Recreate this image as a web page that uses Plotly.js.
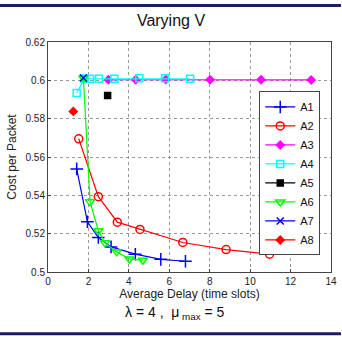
<!DOCTYPE html>
<html><head><meta charset="utf-8">
<script src="https://cdn.plot.ly/plotly-3.0.1.min.js"></script>
<style>html,body{margin:0;padding:0;background:#fff;}#wrap{position:relative;width:342px;height:339px;}#c{width:342px;height:339px;}
.bar{position:absolute;left:0;width:341px;height:2px;background:#1c1c64;z-index:10;}</style>
</head><body>
<div id="wrap"><div id="c"></div><div class="bar" style="top:4px"></div><div class="bar" style="top:333px"></div></div>
<script>
const a1x = [1.42, 1.95, 2.49, 3.12, 4.32, 5.58, 6.8];
const a1y = [0.5538, 0.5262, 0.518, 0.5131, 0.5093, 0.5066, 0.5056];
const a2x = [1.52, 2.49, 3.43, 4.55, 6.67, 8.81, 10.96];
const a2y = [0.5695, 0.5393, 0.526, 0.5222, 0.5154, 0.5117, 0.5093];
const a3x = [2.99, 4.34, 5.83, 8.02, 10.54, 13.02];
const a3y = [0.6003, 0.6003, 0.6004, 0.6003, 0.6003, 0.6002];
const a4x = [1.42, 1.8, 2.08, 2.52, 3.28, 4.52, 5.79, 7.03];
const a4y = [0.5934, 0.6009, 0.6008, 0.6008, 0.6008, 0.6011, 0.6011, 0.6008];
const a5x = [2.95];
const a5y = [0.5921];
const a6x = [1.75, 2.08, 2.49, 2.82, 3.4, 4.03, 4.69];
const a6y = [0.6012, 0.5366, 0.5215, 0.5152, 0.5105, 0.5068, 0.5061];
const a7x = [1.75];
const a7y = [0.6012];
const a8x = [1.25];
const a8y = [0.5838];
const names = ['A1','A2','A3','A4','A5','A6','A7','A8'];

function tr(name, x, y, color, symbol, size) {
  return {x: x, y: y, name: name, type: 'scatter', mode: 'lines+markers',
    line: {color: color, width: 1.2},
    marker: {color: color, symbol: symbol, size: size, line: {color: color, width: 1.5}}};
}
const data = [
  tr(names[0], a1x, a1y, '#0000ff', 'cross-thin', 9),
  tr(names[1], a2x, a2y, '#ff0000', 'circle-open', 8),
  tr(names[2], a3x, a3y, '#ff00ff', 'diamond', 6),
  tr(names[3], a4x, a4y, '#00ffff', 'square-open', 7),
  tr(names[4], a5x, a5y, '#000000', 'square', 6),
  tr(names[5], a6x, a6y, '#00ff00', 'triangle-down-open', 8),
  tr(names[6], a7x, a7y, '#0000ff', 'x-thin', 7),
  tr(names[7], a8x, a8y, '#ff0000', 'diamond', 6)
];
const axFont = {family: 'Arial, Liberation Sans, sans-serif', size: 10, color: '#222'};
const layout = {
  width: 342, height: 339,
  margin: {l: 48, r: 11, t: 42, b: 67},
  paper_bgcolor: '#fff', plot_bgcolor: '#fff',
  title: {text: 'Varying V', x: 0.5, xanchor: 'center', y: 0.94, yanchor: 'middle',
    font: {family: 'Arial, Liberation Sans, sans-serif', size: 16, color: '#111'}},
  xaxis: {range: [0, 14], dtick: 2, tick0: 0, showline: true, mirror: true, linecolor: '#444', linewidth: 1,
    ticks: 'inside', ticklen: 3, tickcolor: '#444', showgrid: true, gridcolor: '#999', griddash: 'dot', gridwidth: 1,
    zeroline: false, tickfont: axFont,
    title: {text: 'Average Delay (time slots)', standoff: 3, font: {family: 'Arial, Liberation Sans, sans-serif', size: 12, color: '#222'}}},
  yaxis: {range: [0.5, 0.62], dtick: 0.02, tick0: 0.5, showline: true, mirror: true, linecolor: '#444', linewidth: 1,
    ticks: 'inside', ticklen: 3, tickcolor: '#444', showgrid: true, gridcolor: '#999', griddash: 'dot', gridwidth: 1,
    zeroline: false, tickfont: axFont,
    title: {text: 'Cost per Packet', standoff: 6, font: {family: 'Arial, Liberation Sans, sans-serif', size: 12, color: '#222'}}},
  legend: {x: 0.962, y: 0.785, xanchor: 'right', yanchor: 'top', bgcolor: '#fff', bordercolor: '#444', borderwidth: 1,
    font: {family: 'Arial, Liberation Sans, sans-serif', size: 11, color: '#111'}, tracegroupgap: 0, itemwidth: 30},
  showlegend: true,
  annotations: [{xref: 'paper', yref: 'paper', x: 0.45, y: -0.178, xanchor: 'center', yanchor: 'middle', showarrow: false,
    text: 'λ = 4 ,  μ<sub> max</sub> = 5', font: {family: 'Arial, Liberation Sans, sans-serif', size: 14, color: '#111'}}],
  shapes: [
    {type: 'rect', xref: 'paper', yref: 'paper', x0: -0.17, x1: 1.035, y0: 1.152, y1: 1.165, line: {width: 0}, fillcolor: '#1c1c64', layer: 'above'},
    {type: 'rect', xref: 'paper', yref: 'paper', x0: -0.17, x1: 1.035, y0: -0.262, y1: -0.275, line: {width: 0}, fillcolor: '#1c1c64', layer: 'above'}
  ]
};
Plotly.newPlot('c', data, layout, {displayModeBar: false, staticPlot: true});
</script>
</body></html>
